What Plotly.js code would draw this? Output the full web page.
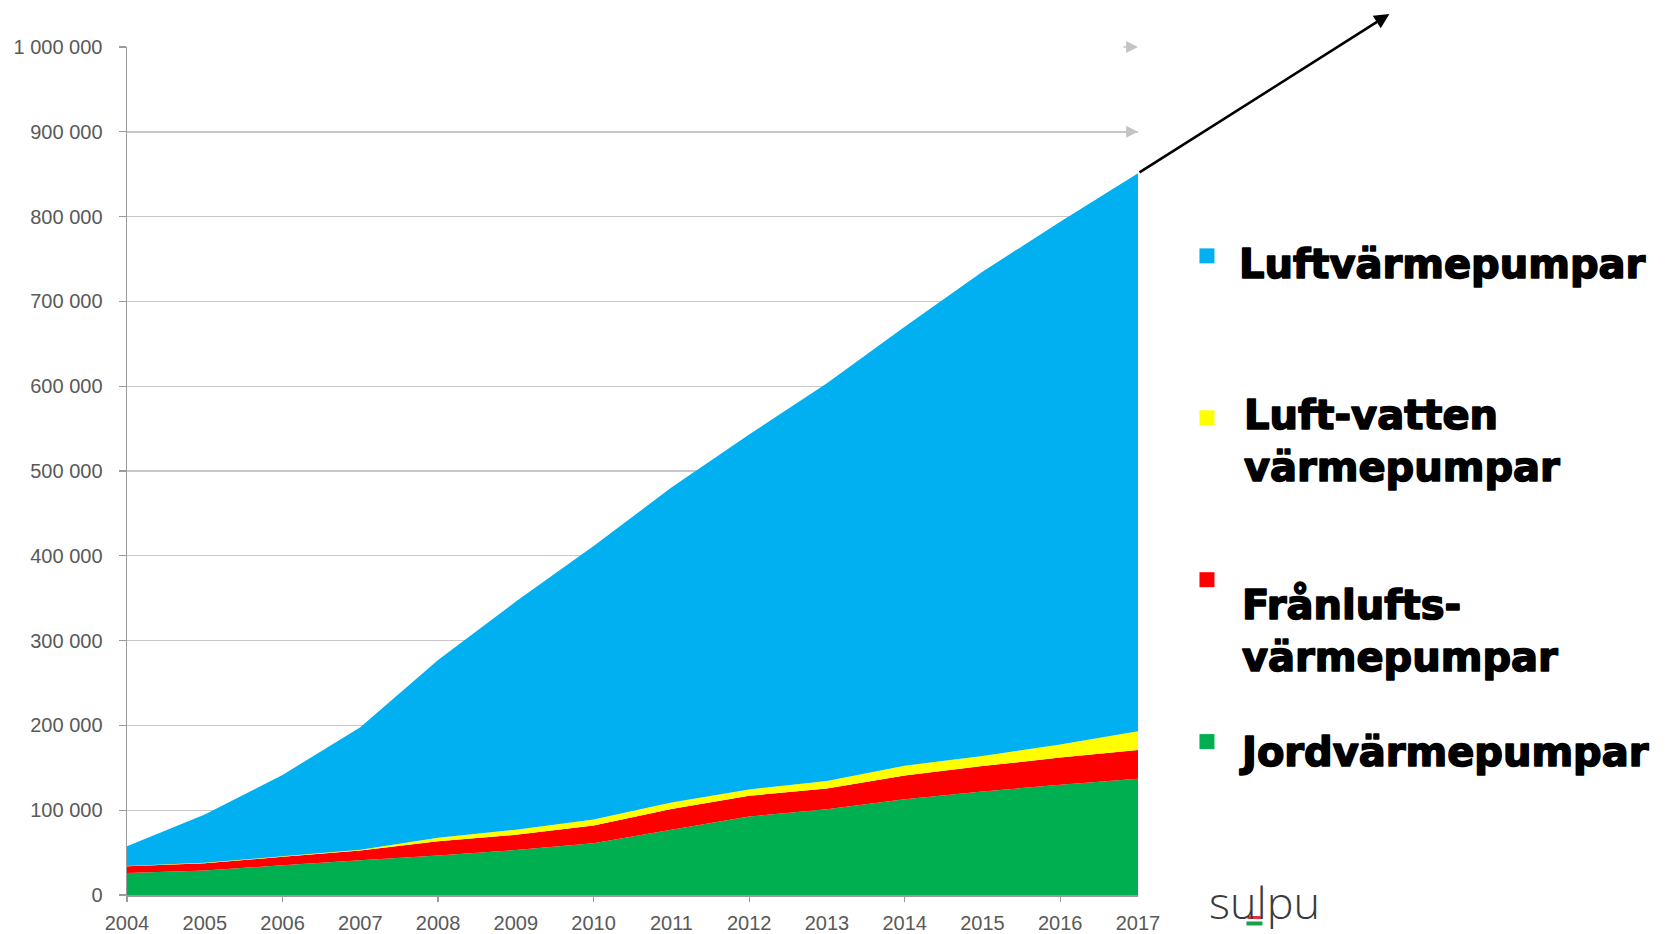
<!DOCTYPE html>
<html>
<head>
<meta charset="utf-8">
<script src="https://cdn.plot.ly/plotly-3.0.1.min.js"></script>
<style>
  html, body { margin: 0; padding: 0; background: #ffffff; }
  #chart { width: 1670px; height: 934px; }
</style>
</head>
<body>
<div id="chart"></div>
<script>
// ---- Data ----
const years = [2004, 2005, 2006, 2007, 2008, 2009, 2010, 2011, 2012, 2013, 2014, 2015, 2016, 2017];
const jordvarme   = [26000, 29000, 35000, 41000, 46500, 53000, 61000, 77000, 92500, 101000, 113000, 122000, 130000, 137000];
const franluft    = [8000, 8500, 10000, 11500, 17000, 18000, 21000, 24500, 24500, 24500, 28000, 30000, 32000, 34000];
const luftvatten  = [300, 500, 600, 800, 4000, 6000, 7000, 7500, 7500, 9000, 11500, 12000, 15500, 22000];
const luftvarme   = [23300, 57000, 96000, 144500, 209500, 269000, 322500, 371500, 418500, 469000, 517500, 571000, 616500, 658000];

const seriesNames  = ["Jordvärmepumpar", "Frånlufts-<br>värmepumpar", "Luft-vatten<br>värmepumpar", "Luftvärmepumpar"];
const seriesValues = [jordvarme, franluft, luftvatten, luftvarme];
const seriesColors = ["#00B050", "#FF0000", "#FFFF00", "#00B0F0"];

const yTickVals = [0, 100000, 200000, 300000, 400000, 500000, 600000, 700000, 800000, 900000, 1000000];

// ---- Geometry helpers (pixel -> paper / data) ----
const W = 1670, H = 934;
const L = 127, R = 1138.5, T = 47, B = 895.5;
const Y_MAX = 1000000;
const px = x => (x - L) / (R - L);
const py = y => (B - y) / (B - T);
const xData = x => years[0] + px(x) * (years[years.length - 1] - years[0]);
const yData = y => py(y) * Y_MAX;

// ---- Traces ----
const traces = seriesValues.map((vals, i) => ({
  type: "scatter",
  x: years,
  y: vals,
  name: seriesNames[i],
  stackgroup: "one",
  mode: "none",
  fillcolor: seriesColors[i],
  line: { width: 0 },
  hoverinfo: "x+y+name"
}));
// helper trace for the secondary (tick-only) x axis
traces.push({ type: "scatter", x: years, y: jordvarme, xaxis: "x2", yaxis: "y",
  mode: "none", hoverinfo: "skip", showlegend: false });

const totals = years.map((_, k) => seriesValues.reduce((s, v) => s + v[k], 0));
const lastYear = years[years.length - 1];
const lastTotal = totals[totals.length - 1];

// ---- Annotations ----
const annotations = [];
// gridline arrowheads visible above the area
yTickVals.filter(v => v > lastTotal).forEach(v => {
  annotations.push({
    x: lastYear, y: v, xref: "x", yref: "y", text: "",
    showarrow: true, ax: -16, ay: 0, arrowhead: 2, arrowsize: 1.7,
    arrowwidth: 1.4, arrowcolor: "#c4c4c4"
  });
});
// big black arrow from the top of the area
annotations.push({
  x: xData(1390), y: yData(14), xref: "x", yref: "y", text: "",
  showarrow: true, ax: lastYear, ay: lastTotal, axref: "x", ayref: "y",
  arrowhead: 2, arrowsize: 1.15, arrowwidth: 2.6, arrowcolor: "#000000"
});

// custom legend
const legendFont = { family: "'DejaVu Sans', sans-serif", size: 40, color: "#000000", weight: 700 };
const legendItems = [
  { idx: 3, sq: 256, tx: 1238, ty: 264 },
  { idx: 2, sq: 418, tx: 1243, ty: 441 },
  { idx: 1, sq: 580, tx: 1241, ty: 631 },
  { idx: 0, sq: 742, tx: 1238, ty: 752 }
];
const shapes = [];
const legendAnnStart = annotations.length;
legendItems.forEach(it => {
  shapes.push({
    type: "rect", xref: "paper", yref: "paper", layer: "above",
    x0: px(1200), x1: px(1215), y0: py(it.sq + 7.5), y1: py(it.sq - 7.5),
    fillcolor: seriesColors[it.idx], line: { width: 0 }
  });
  annotations.push({
    x: px(it.tx), y: py(it.ty), xref: "paper", yref: "paper",
    xanchor: "left", yanchor: "middle", align: "left",
    text: seriesNames[it.idx], showarrow: false, font: legendFont
  });
});
const legendAnnEnd = annotations.length;

// sulpu logo
annotations.push({
  x: px(1208), y: py(902), xref: "paper", yref: "paper",
  xanchor: "left", yanchor: "middle", text: "sulpu", showarrow: false,
  font: { family: "'Open Sans', sans-serif", size: 45, color: "#3a3a3a", weight: 300 }
});
shapes.push({ type: "rect", xref: "paper", yref: "paper", layer: "above",
  x0: px(1248), x1: px(1262), y0: py(919.5), y1: py(916.5), fillcolor: "#e8303a", line: { width: 0 } });
shapes.push({ type: "rect", xref: "paper", yref: "paper", layer: "above",
  x0: px(1247), x1: px(1263), y0: py(926), y1: py(922), fillcolor: "#1aa04a", line: { width: 0 } });

const tickFont = { family: "'Liberation Sans', Arial, sans-serif", size: 20, color: "#595959" };

const layout = {
  width: W, height: H,
  margin: { l: L, r: W - R, t: T, b: H - B, pad: 0 },
  paper_bgcolor: "#ffffff",
  plot_bgcolor: "#ffffff",
  showlegend: false,
  separators: ", ",
  xaxis: {
    range: [years[0], lastYear],
    tickvals: years,
    ticktext: years.map(String),
    ticks: "",
    showgrid: false,
    zeroline: false,
    showline: true, linecolor: "#9a9a9a", linewidth: 1.5,
    tickfont: tickFont,
    ticklabelstandoff: 9,
    fixedrange: true
  },
  xaxis2: {
    overlaying: "x", anchor: "y", side: "bottom",
    range: [years[0], lastYear],
    dtick: 2, tick0: years[0],
    ticks: "outside", ticklen: 6, tickwidth: 1.3, tickcolor: "#9a9a9a",
    showticklabels: false, showgrid: false, zeroline: false, showline: false,
    fixedrange: true
  },
  yaxis: {
    range: [0, Y_MAX],
    tickvals: yTickVals,
    tickformat: ",d",
    ticks: "outside", ticklen: 7, tickwidth: 1.3, tickcolor: "#9a9a9a",
    showgrid: true, gridcolor: "#c8c8c8", gridwidth: 1.4,
    zeroline: false,
    showline: true, linecolor: "#9a9a9a", linewidth: 1.5,
    tickfont: tickFont,
    ticklabelstandoff: 12,
    fixedrange: true
  },
  annotations: annotations,
  shapes: shapes
};

Plotly.newPlot("chart", traces, layout, { displayModeBar: false, staticPlot: true }).then(gd => {
  // make the legend labels extra heavy, like the black typeface of the original
  const anns = gd.querySelectorAll("g.annotation");
  anns.forEach(g => {
    const idx = +g.getAttribute("data-index");
    if (idx >= legendAnnStart && idx < legendAnnEnd) {
      g.querySelectorAll("text").forEach(t => {
        t.style.stroke = "#000000";
        t.style.strokeWidth = "1.6px";
        t.style.strokeLinejoin = "round";
      });
    }
  });
});
</script>
</body>
</html>
